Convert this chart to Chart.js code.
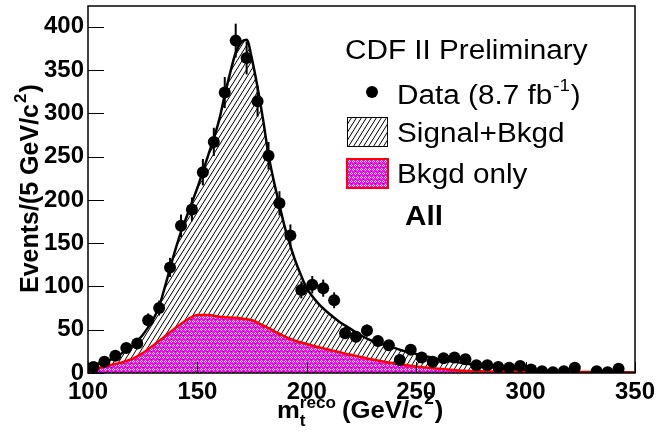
<!DOCTYPE html>
<html><head><meta charset="utf-8">
<script src="https://cdn.jsdelivr.net/npm/chart.js@4.4.1/dist/chart.umd.min.js"></script>
<style>html,body{margin:0;padding:0;background:#fff;overflow:hidden}#wrap{width:656px;height:433px;position:relative}</style>
</head><body><div id="wrap"><canvas id="c" width="656" height="433"></canvas></div>
<script>
// ---- data ----
const binCenters = [102.5,107.5,112.5,117.5,122.5,127.5,132.5,137.5,142.5,147.5,152.5,157.5,162.5,167.5,172.5,177.5,182.5,187.5,192.5,197.5,202.5,207.5,212.5,217.5,222.5,227.5,232.5,237.5,242.5,247.5,252.5,257.5,262.5,267.5,272.5,277.5,282.5,287.5,292.5,297.5,302.5,307.5,312.5,317.5,322.5,327.5,332.5,337.5,342.5,347.5];
const dataCounts = [7,13,20,29,34,61,75,122,170,189,232,267,324,384,364,314,251,196,159,96,102,98,84,46,42,49,37,32,15,27,18,13,17,18,16,9,9,7,6,8,4,2,1,2,6,null,2,1,5,null];
const sigX = [100,105,110,115,120,125,130,132.5,135,137.5,140,142.5,145,147.5,150,152.5,155,157.5,160,162.5,165,167.5,170,172.5,175,177.5,180,182.5,185,187.5,190,192.5,195,197.5,200,205,210,215,220,225,230,235,240,245,250,260,270,280,290,300,310,320,335,350];
const sigY = [8,11,15,22,31,44,63,77,98,121,143,163,180,197,214,233,252,271,293,321,347,370,382,385,362,330,293,252,221,194,168,147,128,112,98,81,69,59,51,43,37,33,29,25,22,16,12,8,5,3.5,2.5,1.5,1,0.5];
const bkgX = [100,105,110,115,120,125,130,135,140,145,150,155,160,165,170,175,180,185,190,195,200,205,210,215,220,230,240,250,260,270,280,300,325,350];
const bkgY = [3,5.5,9,12,16,23,32,42,52,61,67,67,65,64,63,61,55,48.5,42,37,33.5,30,27,24,21,15.5,11,7.5,5,3,2,1,0.5,0.2];
const xTicks = [100,150,200,250,300,350];
const yTicks = [0,50,100,150,200,250,300,350,400];
const xRange = [100,350];
const yRange = [0,424];
const titleText = 'CDF II Preliminary';
const legendData = ['Data (8.7 fb', '-1', ')'];
const legendSig = 'Signal+Bkgd';
const legendBkg = 'Bkgd only';
const channelText = 'All';
const xTitle = ['m', 't', 'reco', '(GeV/c', '2', ')'];
const yTitle = ['Events/(5 GeV/c', '2', ')'];

const FF = '"Liberation Sans", Arial, Helvetica, sans-serif';

// ---- fill patterns ----
function makeHatch(){
  const c = document.createElement('canvas'); c.width = 5; c.height = 8;
  const g = c.getContext('2d');
  g.strokeStyle = '#000'; g.lineWidth = 1;
  for (let k=-1;k<=1;k++){ g.beginPath(); g.moveTo(k*5,8); g.lineTo(k*5+5,0); g.stroke(); }
  return g.createPattern(c,'repeat');
}
function makeMagenta(){
  const c = document.createElement('canvas'); c.width = 8; c.height = 8;
  const g = c.getContext('2d');
  g.fillStyle = '#ff00ff'; g.fillRect(0,0,8,8);
  g.fillStyle = '#ffffff';
  [[1,0],[0,1],[2,1],[1,2],[5,0],[4,1],[6,1],[5,2],[3,4],[2,5],[4,5],[3,6],[7,4],[6,5],[0,5],[7,6]].forEach(p=>g.fillRect(p[0],p[1],1,1));
  g.fillStyle = '#000000'; g.fillRect(3,3,1,1); g.fillRect(7,7,1,1);
  return g.createPattern(c,'repeat');
}
const hatch = makeHatch();
const magenta = makeMagenta();

function pts(xs, ys){ return xs.map((x,i)=>({x:x, y:ys[i]})); }

function stretchText(ctx, s, x, y, font, sx){
  ctx.save(); ctx.font = font; ctx.translate(x,y); ctx.scale(sx,1);
  ctx.fillText(s,0,0); const w = ctx.measureText(s).width*sx; ctx.restore(); return w;
}

const decor = {
  id:'decor',
  afterDatasetsDraw(chart){
    const ctx = chart.ctx, xs = chart.scales.x, ys = chart.scales.y, a = chart.chartArea;
    ctx.save();
    ctx.beginPath(); ctx.rect(a.left,a.top,a.right-a.left,a.bottom-a.top); ctx.clip();
    ctx.strokeStyle = '#000'; ctx.lineWidth = 2;
    binCenters.forEach((x,i)=>{
      const v = dataCounts[i]; if (v==null || v<=0) return;
      const e = Math.sqrt(v);
      const px = xs.getPixelForValue(x);
      ctx.beginPath(); ctx.moveTo(px, ys.getPixelForValue(v-e)); ctx.lineTo(px, ys.getPixelForValue(v+e)); ctx.stroke();
    });
    ctx.restore();
  },
  afterDraw(chart){
    const ctx = chart.ctx, xs = chart.scales.x, ys = chart.scales.y, a = chart.chartArea;
    ctx.save();
    ctx.strokeStyle = '#000'; ctx.lineWidth = 1;
    yTicks.forEach(v=>{ const p = Math.round(ys.getPixelForValue(v))+0.5; ctx.beginPath(); ctx.moveTo(a.left,p); ctx.lineTo(a.left+16,p); ctx.stroke(); });
    xTicks.forEach(v=>{ const p = Math.round(xs.getPixelForValue(v))+0.5; ctx.beginPath(); ctx.moveTo(p,a.bottom); ctx.lineTo(p,a.bottom-11); ctx.stroke(); });
    ctx.lineWidth = 1.5; ctx.strokeStyle = '#000';
    ctx.strokeRect(a.left, a.top, a.right-a.left, a.bottom-a.top);
    ctx.fillStyle = '#000';
    // x tick labels, positioned by the x scale
    ctx.font = 'bold 24px '+FF; ctx.textAlign = 'center'; ctx.textBaseline = 'alphabetic';
    xTicks.forEach(v=>{ ctx.fillText(String(v), xs.getPixelForValue(v), 399); });
    // axis titles
    ctx.textAlign = 'left';
    let x = 277, base = 418;
    let w = stretchText(ctx, xTitle[0], x, base, 'bold 24px '+FF, 1.07); x += w;
    const ws = stretchText(ctx, xTitle[1], x, base+8, 'bold 16px '+FF, 1.07);
    const wr = stretchText(ctx, xTitle[2], x, base-10, 'bold 16px '+FF, 1.07);
    x += Math.max(ws,wr) + 6;
    w = stretchText(ctx, xTitle[3], x, base, 'bold 24px '+FF, 1.07); x += w + 1;
    w = stretchText(ctx, xTitle[4], x, base-14, 'bold 16px '+FF, 1.07); x += w + 1;
    stretchText(ctx, xTitle[5], x, base, 'bold 24px '+FF, 1.07);
    // y title (rotated)
    ctx.save(); ctx.translate(38, 293); ctx.rotate(-Math.PI/2);
    ctx.font = 'bold 25px '+FF; ctx.fillText(yTitle[0], 0, 0); let yw = ctx.measureText(yTitle[0]).width;
    ctx.font = 'bold 17px '+FF; ctx.fillText(yTitle[1], yw+1, -12); yw += ctx.measureText(yTitle[1]).width + 2;
    ctx.font = 'bold 25px '+FF; ctx.fillText(yTitle[2], yw, 0);
    ctx.restore();
    // legend
    const LF = '27px '+FF, SX = 1.1;
    stretchText(ctx, titleText, 345, 58.5, LF, SX);
    ctx.beginPath(); ctx.arc(372, 92, 6, 0, Math.PI*2); ctx.fill();
    x = 397;
    w = stretchText(ctx, legendData[0], x, 104, LF, SX); x += w + 1;
    w = stretchText(ctx, legendData[1], x, 91, '17px '+FF, SX); x += w + 1;
    stretchText(ctx, legendData[2], x, 104, LF, SX);
    ctx.fillStyle = '#fff'; ctx.fillRect(347,117,41,30);
    ctx.fillStyle = hatch; ctx.fillRect(347,117,41,30);
    ctx.lineWidth = 1; ctx.strokeStyle = '#000'; ctx.strokeRect(347.5,117.5,40,29);
    ctx.fillStyle = '#000';
    stretchText(ctx, legendSig, 397, 141.7, LF, SX);
    ctx.fillStyle = magenta; ctx.fillRect(347,159,41,29);
    ctx.lineWidth = 2; ctx.strokeStyle = '#ff0000'; ctx.strokeRect(347,159,41,29);
    ctx.fillStyle = '#000';
    stretchText(ctx, legendBkg, 397, 183.3, LF, SX);
    stretchText(ctx, channelText, 405, 225, 'bold 27px '+FF, SX);
    ctx.restore();
  }
};

new Chart(document.getElementById('c'), {
  type:'line',
  data:{ datasets:[
    { label:'Data', data: pts(binCenters, dataCounts), showLine:false, pointRadius:6, pointHoverRadius:6,
      pointBackgroundColor:'#000', pointBorderColor:'#000', pointBorderWidth:0, order:0 },
    { label:'Bkgd only', data: pts(bkgX, bkgY), borderColor:'#ff0000', borderWidth:2.5, backgroundColor: magenta,
      fill:'origin', pointRadius:0, cubicInterpolationMode:'monotone', order:1 },
    { label:'Signal+Bkgd', data: pts(sigX, sigY), borderColor:'#000', borderWidth:2.5, backgroundColor: hatch,
      fill:'origin', pointRadius:0, cubicInterpolationMode:'monotone', order:2 }
  ]},
  options:{
    responsive:false, animation:false, devicePixelRatio:1,
    layout:{ padding:{ top:4, right:21, left:0, bottom:0 } },
    plugins:{ legend:{display:false}, tooltip:{enabled:false} },
    scales:{
      x:{ type:'linear', min:xRange[0], max:xRange[1],
        afterFit(s){ s.height = 60; s.paddingLeft = 0; s.paddingRight = 0; },
        afterBuildTicks(s){ s.ticks = xTicks.map(v=>({value:v})); },
        grid:{ display:false, drawTicks:false }, border:{ display:false },
        ticks:{ display:false } },
      y:{ type:'linear', min:yRange[0], max:yRange[1],
        afterFit(s){ s.width = 88; s.paddingTop = 0; s.paddingBottom = 0; },
        afterBuildTicks(s){ s.ticks = yTicks.map(v=>({value:v})); },
        grid:{ display:false, drawTicks:false }, border:{ display:false },
        ticks:{ padding:4, color:'#000', font:{ family:FF, size:24, weight:'bold' } } }
    }
  },
  plugins:[decor]
});
</script></body></html>
